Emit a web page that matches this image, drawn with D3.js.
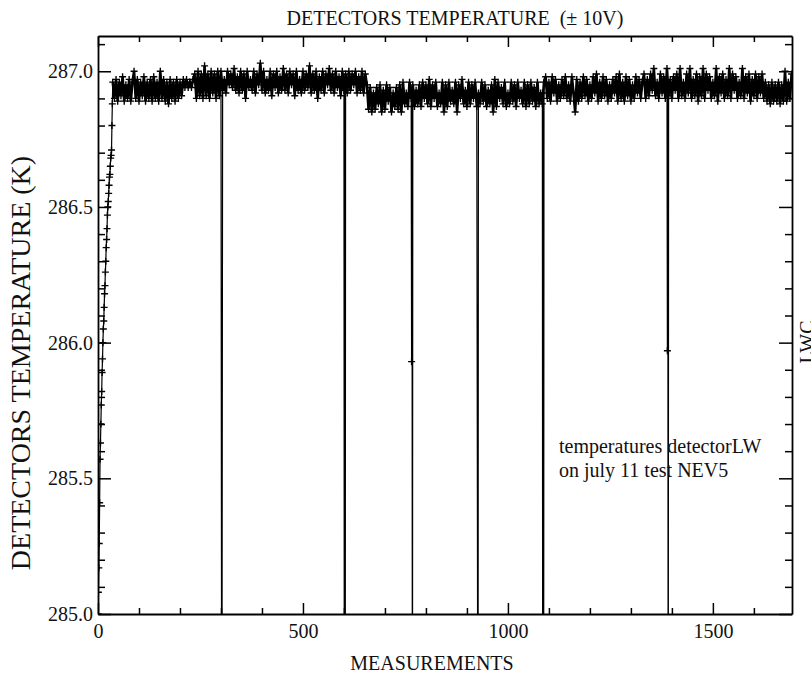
<!DOCTYPE html>
<html lang="en">
<head>
	<title>Detectors temperature</title>
	<meta charset="utf-8" />
	<script type="text/javascript" src="https://cdn.jsdelivr.net/npm/d3@7"></script>
	<style>
		body { margin: 0; background: #fff; }
		svg text { font-family: "Liberation Serif", "DejaVu Serif", serif; fill: #111; }
	</style>
</head>
<body>
<div id="content"></div>
<script type="text/javascript">

	// warm up after switch on (measurement, K)
	var riseX = [0,1,2,3,4,5,6,7,8,9,10,11,12,13,14,15,16,17,18,19,20,21,22,23,24,25,26,27,28,29,30,31,32,33,34,35];
	var riseT = [285.00,285.08,285.17,285.26,285.41,285.57,285.63,285.70,285.77,285.82,285.89,285.94,286.00,286.05,286.08,286.13,286.18,286.21,286.26,286.30,286.35,286.38,286.42,286.47,286.50,286.52,286.55,286.58,286.61,286.62,286.65,286.68,286.69,286.71,286.80,286.88];

	// plateau, one reading every 4 measurements, segment by segment
	var segStart = [36, 208, 236, 300, 656, 1092, 1332, 1628];
	var segA = [286.96,286.90,286.97,286.89,286.96,286.91,286.98,286.89,286.95,286.90,
		286.97,286.89,286.96,287.00,286.90,286.97,286.89,286.96,286.91,286.98,
		286.89,286.96,286.90,286.97,286.89,286.98,286.90,286.96,286.89,287.00,
		286.90,286.97,286.89,286.96,286.88,286.97,286.90,286.96,286.89,286.97,
		286.90,286.96,286.91];
	var segB = [286.97,286.94,286.97,286.94,286.96,286.94,286.97];
	var segC = [286.99,286.90,287.00,286.91,286.99,286.90,287.02,286.91,286.99,286.90,287.00,286.92,286.99,286.90,287.00,286.91];
	var segD = [287.00,286.93,286.97,286.92,287.00,286.95,286.99,286.94,287.01,286.93,
		286.98,286.92,287.00,286.93,286.99,286.90,287.00,286.94,286.97,286.93,
		287.00,286.92,286.99,286.95,287.03,286.93,287.00,286.92,286.97,286.93,
		287.00,286.91,286.99,286.94,287.00,286.92,286.98,286.93,287.01,286.93,
		286.99,286.92,287.00,286.95,286.99,286.91,287.00,286.93,286.97,286.92,
		287.00,286.93,286.99,286.94,287.02,286.92,286.99,286.93,287.00,286.90,
		286.98,286.93,287.00,286.92,286.99,286.95,287.01,286.93,286.99,286.92,
		287.00,286.94,286.98,286.91,287.00,286.93,286.99,286.92,287.00,286.93,
		286.99,286.95,287.00,286.92,286.98,286.93,287.00,286.92,286.99];
	var segE = [286.95,286.86,286.94,286.85,286.92,286.86,286.94,286.88,286.95,286.85,
		286.93,286.86,286.95,286.89,286.94,286.85,286.92,286.87,286.94,286.86,
		286.95,286.85,286.96,286.88,286.92,286.87,286.96,286.90,286.95,286.87,
		286.93,286.88,286.95,286.87,286.96,286.90,286.95,286.88,286.97,286.87,
		286.95,286.90,286.96,286.87,286.92,286.88,286.96,286.85,286.95,286.87,
		286.96,286.89,286.93,286.88,286.96,286.85,286.95,286.90,286.97,286.88,
		286.93,286.87,286.96,286.88,286.95,286.90,286.96,286.87,286.92,286.88,
		286.96,286.89,286.95,286.87,286.93,286.88,286.95,286.85,286.97,286.87,
		286.96,286.90,286.94,286.88,286.96,286.87,286.92,286.88,286.96,286.89,
		286.95,286.87,286.96,286.90,286.93,286.88,286.96,286.87,286.95,286.88,
		286.96,286.89,286.94,286.87,286.96,286.88,286.92,286.88,286.96];
	var segF = [286.98,286.90,286.96,286.89,286.98,286.92,286.97,286.89,286.95,286.90,
		286.97,286.91,286.98,286.90,286.95,286.89,286.98,286.92,286.85,286.97,
		286.89,286.96,286.90,286.98,286.91,286.97,286.89,286.95,286.90,286.98,
		286.92,286.99,286.89,286.96,286.90,286.98,286.91,286.97,286.89,286.95,
		286.90,286.97,286.92,286.98,286.89,286.99,286.90,286.96,286.89,286.98,
		286.91,286.97,286.89,286.95,286.90,286.98,286.92,286.97,286.90,286.96];
	var segG = [286.99,286.90,286.97,286.91,286.99,286.93,287.01,286.91,286.96,286.90,
		286.99,286.92,286.98,286.90,287.01,286.91,286.97,286.90,286.98,286.93,
		286.99,286.90,287.01,286.91,286.96,286.90,286.99,286.92,287.01,286.90,
		286.97,286.91,286.99,286.89,286.98,286.91,287.01,286.90,286.99,286.93,
		286.98,286.90,286.96,286.91,287.01,286.89,286.98,286.92,286.99,286.90,
		286.97,286.91,287.01,286.90,286.99,286.93,286.98,286.90,286.96,286.91,
		287.01,286.90,286.98,286.92,286.99,286.89,286.97,286.91,286.99,286.90,
		286.98,286.92,286.99,286.90];
	var segH = [286.96,286.89,286.95,286.88,286.96,286.89,286.95,286.89,286.96,286.88,286.95,286.89,287.00,286.89,286.96,286.90,286.99];
	var segments = [segA, segB, segC, segD, segE, segF, segG, segH];

	// dropouts of the acquisition (go off scale)
	var dropX = [302, 601, 602, 603, 765, 766, 767, 927, 1085, 1086, 1087, 1389, 1390, 1391];
	var dropT = [284.0, 284.0, 286.95, 284.0, 285.93, 286.92, 284.0, 284.0, 284.0, 286.92, 284.0, 285.97, 286.95, 284.0];

	// axis ticks
	var xMajor = [0, 500, 1000, 1500];
	var xMinor = [100, 200, 300, 400, 600, 700, 800, 900, 1100, 1200, 1300, 1400, 1600];
	var yMajor = [285.0, 285.5, 286.0, 286.5, 287.0];
	var yMinor = [285.1, 285.2, 285.3, 285.4, 285.6, 285.7, 285.8, 285.9, 286.1, 286.2, 286.3, 286.4, 286.6, 286.7, 286.8, 286.9, 287.1];

	var points = [];
	riseX.forEach(function(d, i) { points.push([d, riseT[i]]); });
	segments.forEach(function(s, k) {
		s.forEach(function(v, i) { points.push([segStart[k] + 4 * i, v]); });
	});
	dropX.forEach(function(d, i) { points.push([d, dropT[i]]); });
	points.sort(function(a, b) { return a[0] - b[0]; });

	// plateau readings only (no dropouts), drawn heavier
	var plateau = points.filter(function(d) { return d[0] >= 36 && dropX.indexOf(d[0]) < 0; });

	var svg = d3.select("#content")
		.append("svg")
		.attr("width", 811)
		.attr("height", 677);

	var x = d3.scaleLinear().domain([0, 1693]).range([98, 792]);
	var y = d3.scaleLinear().domain([285.0, 287.13]).range([614, 36]);

	svg.append("clipPath").attr("id", "plotarea")
		.append("rect")
		.attr("x", 98).attr("y", 36)
		.attr("width", 694).attr("height", 578);

	var line = d3.line()
		.x(function(d) { return x(d[0]); })
		.y(function(d) { return y(d[1]); });

	var plot = svg.append("g").attr("clip-path", "url(#plotarea)");

	plot.append("path")
		.datum(points)
		.attr("d", line)
		.attr("fill", "none")
		.attr("stroke", "#000")
		.attr("stroke-width", 1.2);

	plot.append("path")
		.datum(plateau)
		.attr("d", line)
		.attr("fill", "none")
		.attr("stroke", "#000")
		.attr("stroke-width", 2.6);

	// plus markers
	plot.append("g")
		.selectAll("path")
		.data(points.filter(function(d) { return d[1] >= 285.0; }))
		.enter()
		.append("path")
		.attr("d", "M-3.5,0h7M0,-3.5v7")
		.attr("transform", function(d) { return "translate(" + x(d[0]) + "," + y(d[1]) + ")"; })
		.attr("stroke", "#000")
		.attr("stroke-width", 1.4);

	function styleAxis(g, noDomain) {
		g.attr("font-family", "Liberation Serif").attr("font-size", 20);
		g.selectAll("line").attr("stroke", "#000").attr("stroke-width", 1.5);
		g.select(".domain").attr("stroke", "#000").attr("stroke-width", 1.8);
		if (noDomain) g.select(".domain").remove();
		g.selectAll("text").attr("fill", "#111").style("font-family", "'Liberation Serif', serif");
	}

	// bottom
	svg.append("g").attr("transform", "translate(0,614)")
		.call(d3.axisBottom(x).tickValues(xMajor).tickSizeInner(-11).tickSizeOuter(0).tickPadding(10).tickFormat(d3.format("d")))
		.call(styleAxis, false);
	svg.append("g").attr("transform", "translate(0,614)")
		.call(d3.axisBottom(x).tickValues(xMinor).tickSizeInner(-6).tickSizeOuter(0).tickFormat(""))
		.call(styleAxis, true);
	// top
	svg.append("g").attr("transform", "translate(0,36)")
		.call(d3.axisTop(x).tickValues(xMajor).tickSizeInner(-11).tickSizeOuter(0).tickFormat(""))
		.call(styleAxis, false);
	svg.append("g").attr("transform", "translate(0,36)")
		.call(d3.axisTop(x).tickValues(xMinor).tickSizeInner(-6).tickSizeOuter(0).tickFormat(""))
		.call(styleAxis, true);
	// left
	svg.append("g").attr("transform", "translate(98,0)")
		.call(d3.axisLeft(y).tickValues(yMajor).tickSizeInner(-13).tickSizeOuter(0).tickPadding(5).tickFormat(d3.format(".1f")))
		.call(styleAxis, false);
	svg.append("g").attr("transform", "translate(98,0)")
		.call(d3.axisLeft(y).tickValues(yMinor).tickSizeInner(-7).tickSizeOuter(0).tickFormat(""))
		.call(styleAxis, true);
	// right
	svg.append("g").attr("transform", "translate(792,0)")
		.call(d3.axisRight(y).tickValues(yMajor).tickSizeInner(-13).tickSizeOuter(0).tickFormat(""))
		.call(styleAxis, false);
	svg.append("g").attr("transform", "translate(792,0)")
		.call(d3.axisRight(y).tickValues(yMinor).tickSizeInner(-7).tickSizeOuter(0).tickFormat(""))
		.call(styleAxis, true);

	// titles
	svg.append("text")
		.attr("x", 455).attr("y", 25)
		.attr("text-anchor", "middle")
		.attr("font-size", 20)
		.style("white-space", "pre")
		.text("DETECTORS TEMPERATURE  (\u00b1 10V)");

	svg.append("text")
		.attr("x", 432).attr("y", 670)
		.attr("text-anchor", "middle")
		.attr("font-size", 20)
		.text("MEASUREMENTS");

	svg.append("text")
		.attr("transform", "translate(30,363) rotate(-90)")
		.attr("text-anchor", "middle")
		.attr("font-size", 28)
		.text("DETECTORS TEMPERATURE (K)");

	// right axis title, cut by the page edge as in the original
	svg.append("text")
		.attr("transform", "translate(814,342) rotate(-90)")
		.attr("text-anchor", "middle")
		.attr("font-size", 20)
		.text("LWC");

	svg.append("text")
		.attr("x", 559).attr("y", 453)
		.attr("font-size", 20)
		.text("temperatures detectorLW");
	svg.append("text")
		.attr("x", 559).attr("y", 477)
		.attr("font-size", 20)
		.text("on july 11 test NEV5");

</script>
</body>
</html>
